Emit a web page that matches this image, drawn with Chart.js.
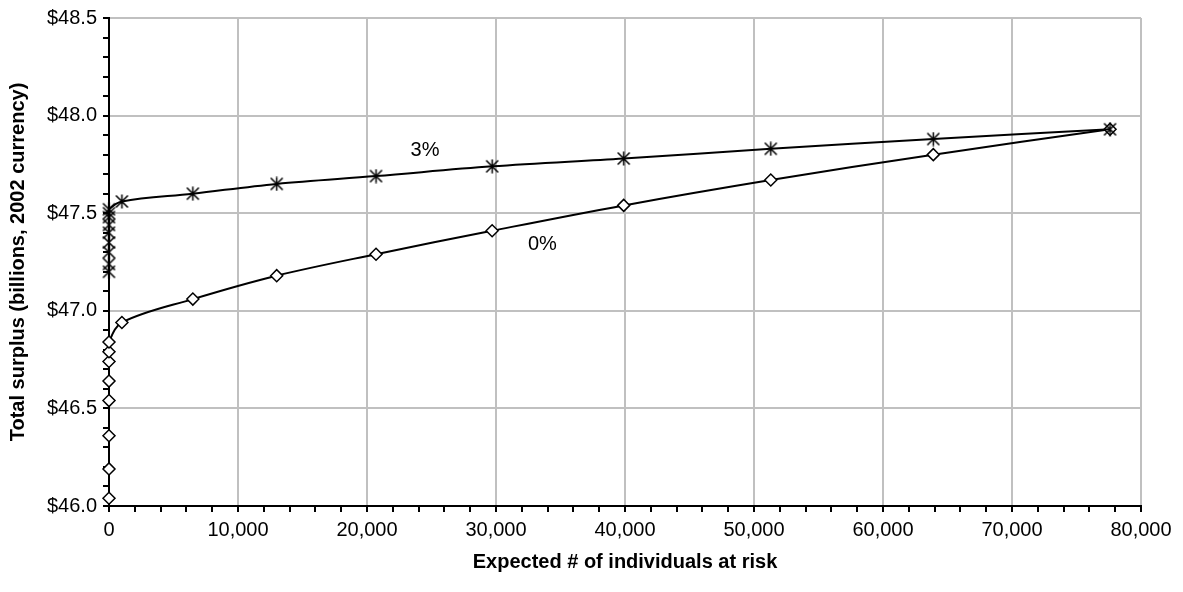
<!DOCTYPE html>
<html>
<head>
<meta charset="utf-8">
<script src="https://cdn.jsdelivr.net/npm/chart.js@4.4.1/dist/chart.umd.min.js"></script>
<style>
  html, body { margin: 0; padding: 0; background: #fff; }
  #wrap { width: 1183px; height: 592px; position: relative; }
</style>
</head>
<body>
<div id="wrap"><canvas id="surplus"></canvas></div>
<script>
// x positions of the points (expected # of individuals at risk)
let atRisk0 = [0, 0, 0, 0, 0, 0, 0, 0, 1000, 6500, 13000, 20700, 29700, 39900, 51300, 63900, 77600];
let surplus0 = [46.04, 46.19, 46.36, 46.54, 46.64, 46.74, 46.79, 46.84, 46.94, 47.06, 47.18, 47.29, 47.41, 47.54, 47.67, 47.80, 47.93];

let atRisk3 = [0, 0, 0, 0, 0, 0, 0, 0, 0, 1000, 6500, 13000, 20700, 29700, 39900, 51300, 63900, 77600];
let surplus3 = [47.20, 47.24, 47.30, 47.35, 47.40, 47.44, 47.48, 47.50, 47.52, 47.56, 47.60, 47.65, 47.69, 47.74, 47.78, 47.83, 47.88, 47.93];

let xMajorTicks = [0, 10000, 20000, 30000, 40000, 50000, 60000, 70000, 80000];
let yMajorTicks = [46.0, 46.5, 47.0, 47.5, 48.0, 48.5];

// series labels written on the plot
let seriesLabels = ['3%', '0%'];
let labelAt = [[24500, 47.82], [33600, 47.34]];

function toPoints(xs, ys) {
  let pts = [];
  for(i = 0; i < xs.length; i++) {
    pts.push({x: xs[i], y: ys[i]});
  }
  return pts;
}

// excel style asterisk: an X with a vertical bar
function makeStar() {
  let c = document.createElement('canvas');
  c.width = 15; c.height = 15;
  let g = c.getContext('2d');
  g.strokeStyle = '#000';
  g.lineWidth = 1.5;
  g.beginPath();
  g.moveTo(1.5, 1.5); g.lineTo(13.5, 13.5);
  g.moveTo(13.5, 1.5); g.lineTo(1.5, 13.5);
  g.moveTo(7.5, 0.5); g.lineTo(7.5, 14.5);
  g.stroke();
  return c;
}

function isMajor(v, list) {
  for(k = 0; k < list.length; k++) {
    if(Math.abs(list[k] - v) < 1e-6) return true;
  }
  return false;
}

const seriesText = {
  id: 'seriesText',
  afterDatasetsDraw(chart) {
    let ctx = chart.ctx;
    ctx.save();
    ctx.font = '20px "Liberation Sans", Arial, sans-serif';
    ctx.fillStyle = '#000';
    ctx.textAlign = 'center';
    ctx.textBaseline = 'middle';
    for(j = 0; j < seriesLabels.length; j++) {
      ctx.fillText(seriesLabels[j], chart.scales.x.getPixelForValue(labelAt[j][0]), chart.scales.y.getPixelForValue(labelAt[j][1]));
    }
    ctx.restore();
  }
};

let starImg = makeStar();

new Chart(document.getElementById('surplus'), {
  type: 'line',
  data: {
    datasets: [
      {
        label: '3%',
        data: toPoints(atRisk3, surplus3),
        borderColor: '#000',
        borderWidth: 2,
        tension: 0.35,
        pointStyle: starImg,
        pointRadius: 7,
        clip: false,
        fill: false
      },
      {
        label: '0%',
        data: toPoints(atRisk0, surplus0),
        borderColor: '#000',
        backgroundColor: '#fff',
        borderWidth: 2,
        tension: 0.35,
        pointStyle: 'rectRot',
        pointRadius: 6,
        pointBorderWidth: 1.5,
        pointBackgroundColor: '#fff',
        pointBorderColor: '#000',
        clip: false,
        fill: false
      }
    ]
  },
  options: {
    responsive: true,
    maintainAspectRatio: false,
    animation: false,
    layout: { padding: { top: 15, right: 42, left: 6, bottom: 18 } },
    plugins: {
      legend: { display: false },
      tooltip: { enabled: false }
    },
    scales: {
      x: {
        type: 'linear',
        min: 0,
        max: 80000,
        afterBuildTicks(scale) {
          let t = [];
          for(v = 0; v <= 80000; v += 2000) t.push({value: v});
          scale.ticks = t;
        },
        afterFit(scale) { scale.height = 68; },
        ticks: {
          autoSkip: false,
          maxRotation: 0,
          padding: 6,
          color: '#000',
          font: { family: '"Liberation Sans", Arial, sans-serif', size: 20 },
          callback: (v) => isMajor(v, xMajorTicks) ? v.toLocaleString('en-US') : ''
        },
        grid: {
          color: (c) => (c.tick && isMajor(c.tick.value, xMajorTicks) && c.tick.value > 0) ? '#c0c0c0' : 'rgba(0,0,0,0)',
          lineWidth: 2,
          tickColor: '#000',
          tickLength: 6,
          tickWidth: 2
        },
        border: { color: '#000', width: 2 },
        title: {
          display: true,
          text: 'Expected # of individuals at risk',
          color: '#000',
          font: { family: '"Liberation Sans", Arial, sans-serif', size: 20, weight: 'bold' },
          padding: { top: 2, bottom: 0 }
        }
      },
      y: {
        type: 'linear',
        min: 46,
        max: 48.5,
        afterBuildTicks(scale) {
          let t = [];
          for(n = 0; n <= 25; n++) t.push({value: Math.round((46 + n * 0.1) * 10) / 10});
          scale.ticks = t;
        },
        afterFit(scale) { scale.width = 103; },
        ticks: {
          autoSkip: false,
          padding: 6,
          color: '#000',
          font: { family: '"Liberation Sans", Arial, sans-serif', size: 20 },
          callback: (v) => isMajor(v, yMajorTicks) ? '$' + v.toFixed(1) : ''
        },
        grid: {
          color: (c) => (c.tick && isMajor(c.tick.value, yMajorTicks) && c.tick.value > 46) ? '#c0c0c0' : 'rgba(0,0,0,0)',
          lineWidth: 2,
          tickColor: '#000',
          tickLength: 6,
          tickWidth: 2
        },
        border: { color: '#000', width: 2 },
        title: {
          display: true,
          text: 'Total surplus (billions, 2002 currency)',
          color: '#000',
          font: { family: '"Liberation Sans", Arial, sans-serif', size: 20, weight: 'bold' },
          padding: { top: 0, bottom: 0 }
        }
      }
    }
  },
  plugins: [seriesText]
});
</script>
</body>
</html>
